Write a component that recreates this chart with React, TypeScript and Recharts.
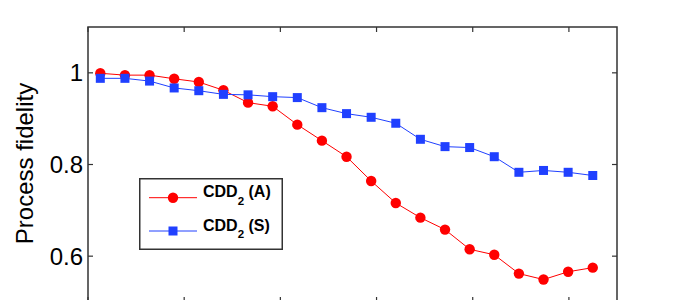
import React from 'react';
import { LineChart, Line, XAxis, YAxis, Legend, ReferenceArea } from 'recharts';

// x positions of the measurements (axis labels are cropped off in the reference)
const xValues = [128, 384, 640, 896, 1152, 1408, 1664, 1920, 2176, 2432, 2688, 2944, 3200, 3456, 3712, 3968, 4224, 4480, 4736, 4992, 5248];
const xTicks = [0, 1000, 2000, 3000, 4000, 5000];
const yTicks = [0.6, 0.8, 1];

const fidelityA = [0.999, 0.995, 0.995, 0.987, 0.98, 0.962, 0.935, 0.927, 0.887, 0.852, 0.817, 0.764, 0.716, 0.684, 0.658, 0.615, 0.603, 0.562, 0.549, 0.566, 0.575];
const fidelityS = [0.988, 0.988, 0.982, 0.967, 0.961, 0.953, 0.952, 0.948, 0.946, 0.924, 0.911, 0.903, 0.89, 0.855, 0.839, 0.837, 0.817, 0.783, 0.787, 0.783, 0.776];

const seriesLabels = [
  { key: 'a', base: 'CDD', sub: '2', tag: '(A)' },
  { key: 's', base: 'CDD', sub: '2', tag: '(S)' },
];

const data = xValues.map((x, i) => ({ x, a: fidelityA[i], s: fidelityS[i] }));

const W = 681;
const H = 330;
// plot area: left 88, top 27, right 617, bottom 302 (axes take 1px each)
const M = { top: 27, right: 64, bottom: 27, left: 87 };
const PLOT = { left: 88, top: 27, right: W - 64, bottom: H - 28 };
const FONT = '"Liberation Sans", Arial, Helvetica, sans-serif';
const RED = '#ff0000';
const BLUE = '#2040ff';
const AXIS = '#333';
const TICK = 5;

// eslint-disable-next-line @typescript-eslint/no-explicit-any
const XTick = (props: any) => {
  const { x } = props;
  return (
    <g stroke={AXIS} strokeWidth={1.2}>
      <line x1={x} x2={x} y1={PLOT.top} y2={PLOT.top + TICK} />
      <line x1={x} x2={x} y1={PLOT.bottom} y2={PLOT.bottom - TICK} />
    </g>
  );
};

// eslint-disable-next-line @typescript-eslint/no-explicit-any
const YTick = (props: any) => {
  const { y, payload } = props;
  return (
    <g>
      <line x1={PLOT.left} x2={PLOT.left + TICK} y1={y} y2={y} stroke={AXIS} strokeWidth={1.2} />
      <line x1={PLOT.right} x2={PLOT.right - TICK} y1={y} y2={y} stroke={AXIS} strokeWidth={1.2} />
      <text x={PLOT.left - 5} y={y} dy={8.5} textAnchor="end" fontSize={24} fontFamily={FONT} fill="#000">
        {String(payload.value)}
      </text>
    </g>
  );
};

// eslint-disable-next-line @typescript-eslint/no-explicit-any
const YLabel = (props: any) => {
  const vb = props.viewBox || { x: 87, y: PLOT.top, width: 1, height: PLOT.bottom - PLOT.top };
  const cx = vb.x + (vb.width || 0) - 55;
  const cy = vb.y + vb.height / 2 - 1;
  return (
    <text x={cx} y={cy} transform={`rotate(-90, ${cx}, ${cy})`} textAnchor="middle" fontSize={24} fontFamily={FONT} fill="#000">
      Process fidelity
    </text>
  );
};

// eslint-disable-next-line @typescript-eslint/no-explicit-any
const CircleDot = (props: any) => {
  const { cx, cy, index } = props;
  if (cx == null || cy == null) return null;
  return <circle key={`c${index}`} cx={cx} cy={cy} r={5.2} fill={RED} stroke="none" />;
};

// eslint-disable-next-line @typescript-eslint/no-explicit-any
const SquareDot = (props: any) => {
  const { cx, cy, index } = props;
  if (cx == null || cy == null) return null;
  return <rect key={`s${index}`} x={cx - 4.5} y={cy - 4.5} width={9} height={9} fill={BLUE} stroke="none" />;
};

// eslint-disable-next-line @typescript-eslint/no-explicit-any
const LegendBox = (props: any) => {
  const payload = props.payload || [];
  const rows = [19.7, 53];
  return (
    <svg width={144} height={72} style={{ display: 'block' }}>
      <rect x={0.75} y={0.75} width={142.5} height={70.5} fill="#fff" stroke={AXIS} strokeWidth={1.5} />
      {seriesLabels.map((lab, i) => {
        // eslint-disable-next-line @typescript-eslint/no-explicit-any
        const entry = payload.find((p: any) => p.dataKey === lab.key);
        const color = entry ? entry.color : i === 0 ? RED : BLUE;
        const y = rows[i];
        return (
          <g key={lab.key}>
            <line x1={10} x2={58} y1={y} y2={y} stroke={color} strokeWidth={1} />
            {i === 0 ? (
              <circle cx={34} cy={y} r={5.2} fill={color} />
            ) : (
              <rect x={29.5} y={y - 4.5} width={9} height={9} fill={color} />
            )}
            <text x={64} y={y - 0.5} fontSize={16} fontWeight="bold" fontFamily={FONT} fill="#000">
              {lab.base}
              <tspan fontSize={11.5} dy={7.5}>{lab.sub}</tspan>
              <tspan dy={-7.5}>{' ' + lab.tag}</tspan>
            </text>
          </g>
        );
      })}
    </svg>
  );
};

export default function App() {
  return (
    <div style={{ position: 'absolute', left: 0, top: 0, width: W, height: 300, overflow: 'hidden', background: '#fff' }}>
      <LineChart width={W} height={H} data={data} margin={M}>
        <ReferenceArea
          x1={0}
          x2={5500}
          y1={0.5}
          y2={1.1}
          fill="none"
          stroke={AXIS}
          strokeWidth={1.5}
          ifOverflow="visible"
        />
        <XAxis
          type="number"
          dataKey="x"
          domain={[0, 5500]}
          ticks={xTicks}
          height={1}
          axisLine={false}
          tickLine={false}
          tick={<XTick />}
          interval={0}
        />
        <YAxis
          type="number"
          domain={[0.5, 1.1]}
          ticks={yTicks}
          width={1}
          axisLine={false}
          tickLine={false}
          tick={<YTick />}
          interval={0}
          label={<YLabel />}
        />
        <Legend
          layout="vertical"
          align="center"
          verticalAlign="middle"
          content={<LegendBox />}
          wrapperStyle={{ position: 'absolute', left: 139, top: 178, width: 144, height: 72, margin: 0 }}
        />
        <Line dataKey="a" name="CDD2 (A)" stroke={RED} strokeWidth={1} dot={<CircleDot />} isAnimationActive={false} />
        <Line dataKey="s" name="CDD2 (S)" stroke={BLUE} strokeWidth={1} dot={<SquareDot />} isAnimationActive={false} />
      </LineChart>
    </div>
  );
}
